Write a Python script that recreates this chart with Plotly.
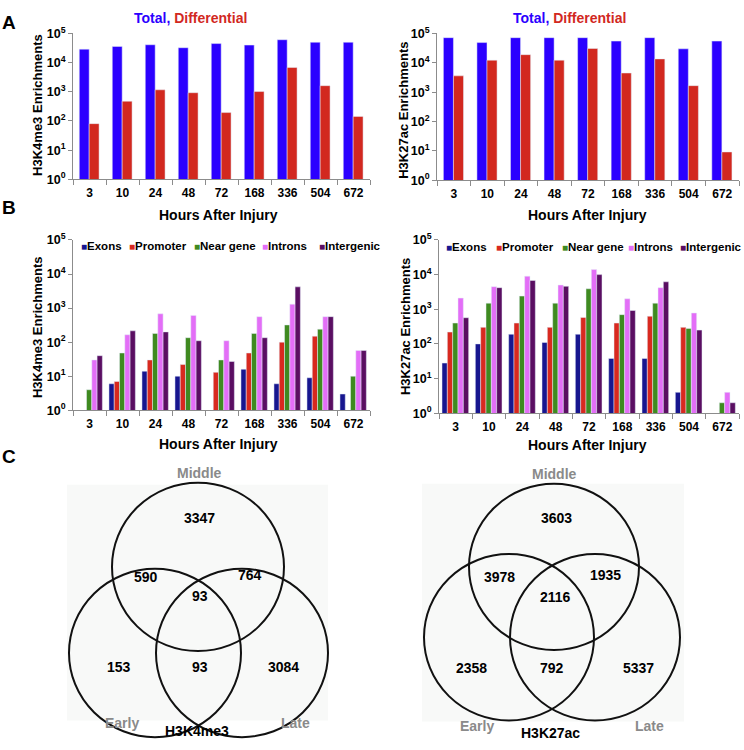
import plotly.graph_objects as go

W, H = 744, 750

# ---------------- data ----------------
hours = ["3", "10", "24", "48", "72", "168", "336", "504", "672"]

# Panel A: total vs differential enrichments
k4_total = [29000, 36000, 41000, 32500, 45000, 40000, 61000, 50000, 50000]
k4_diff = [81, 475, 1170, 930, 194, 1020, 6800, 1620, 143]
k27_total = [72000, 49000, 72000, 72000, 72000, 55000, 72000, 30000, 55000]
k27_diff = [3600, 12300, 19000, 12300, 30800, 4500, 13600, 1670, 9.2]

# Panel B: genomic distribution of differential enrichments
regions = ["Exons", "Promoter", "Near gene", "Introns", "Intergenic"]
k4_exons = [None, 6, 14, 10, None, 16, 6, 9, 3]
k4_promoter = [None, 7, 30, 22, 13, 48, 100, 150, None]
k4_near = [4, 48, 180, 135, 30, 180, 320, 240, 10]
k4_introns = [30, 165, 680, 610, 110, 560, 1300, 560, 57]
k4_intergenic = [40, 215, 200, 110, 27, 135, 4200, 560, 57]

k27_exons = [28, 100, 190, 110, 190, 38, 38, 4, None]
k27_promoter = [220, 300, 400, 300, 580, 400, 630, 300, None]
k27_near = [400, 1500, 2400, 1500, 3900, 700, 1500, 280, 2]
k27_introns = [2100, 4500, 9000, 5000, 14000, 2000, 4200, 780, 4]
k27_intergenic = [570, 4200, 6800, 4600, 10000, 920, 6200, 250, 2]

# Panel C: Venn counts (early-only, middle-only, late-only, E&M, M&L, E&L, all)
venn_sets = ["Early", "Middle", "Late"]
k4_venn = [153, 3347, 3084, 590, 764, 93, 93]
k27_venn = [2358, 3603, 5337, 3978, 1935, 792, 2116]

tick_vals = [1, 10, 100, 1000, 10000, 100000]
tick_text = ["10<sup>%d</sup>" % i for i in range(6)]

# ---------------- style ----------------
FONT = "Liberation Sans, Arial, sans-serif"
BLUE, RED = "#2b00ff", "#d2281f"
REGION_COLORS = ["#17168f", "#d8291f", "#3f8a20", "#e36ef7", "#5a0e62"]
AXIS_GRAY = "#8c8c8c"


def px(x):
    return x / W


def py(y):
    return 1 - y / H


fig = go.Figure()

# Panel A bars
for (tot, dif, xa, ya) in [(k4_total, k4_diff, "x", "y"), (k27_total, k27_diff, "x2", "y2")]:
    fig.add_trace(go.Bar(x=hours, y=tot, marker_color=BLUE, width=0.3, offset=-0.31,
                         xaxis=xa, yaxis=ya, showlegend=False, name="Total"))
    fig.add_trace(go.Bar(x=hours, y=dif, marker_color=RED, width=0.3, offset=-0.01,
                         xaxis=xa, yaxis=ya, showlegend=False, name="Differential"))

# Panel B bars
for series, xa, ya in [([k4_exons, k4_promoter, k4_near, k4_introns, k4_intergenic], "x3", "y3"),
                       ([k27_exons, k27_promoter, k27_near, k27_introns, k27_intergenic], "x4", "y4")]:
    for i, (name, vals) in enumerate(zip(regions, series)):
        fig.add_trace(go.Bar(x=hours, y=vals, marker_color=REGION_COLORS[i], width=0.16,
                             offset=-0.41 + i * 0.16, xaxis=xa, yaxis=ya,
                             showlegend=False, name=name))

fig.update_layout(barmode="overlay")

# axis domains in pixels
doms = {
    1: ((73, 370), (25, 174)),
    2: ((437, 739), (25, 175)),
    3: ((73, 370), (236, 410)),
    4: ((439, 739), (236, 413)),
}
for i, ((x0, x1), (y0, y1)) in doms.items():
    sfx = "" if i == 1 else str(i)
    fig.update_layout({
        "xaxis" + sfx: dict(domain=[px(x0), px(x1)], anchor="y" + sfx, type="category",
                            showline=True, linecolor=AXIS_GRAY, linewidth=1,
                            ticks="outside", tickson="boundaries", ticklen=5, tickcolor=AXIS_GRAY,
                            tickfont=dict(family=FONT, size=12, color="black", weight="bold"),
                            ticklabelstandoff=2, showgrid=False, zeroline=False, fixedrange=True),
        "yaxis" + sfx: dict(domain=[py(y1), py(y0)], anchor="x" + sfx, type="log", range=[0, 5],
                            tickvals=tick_vals, ticktext=tick_text,
                            showline=True, linecolor=AXIS_GRAY, linewidth=1,
                            ticks="outside", ticklen=4, tickcolor=AXIS_GRAY,
                            tickfont=dict(family=FONT, size=12.5, color="black", weight="bold"),
                            showgrid=False, zeroline=False, fixedrange=True),
    })

ann = []


def text(x, y, s, size=14, color="black", angle=0, xanchor="center"):
    ann.append(dict(x=px(x), y=py(y), xref="paper", yref="paper", text=s, showarrow=False,
                    textangle=angle, xanchor=xanchor, yanchor="middle",
                    font=dict(family=FONT, size=size, color=color, weight="bold")))


# panel letters
text(9, 14, "A", 19)
text(9, 203, "B", 19)
text(9, 457, "C", 19)

# panel A titles
title_html = "<span style='color:%s'>Total, </span><span style='color:%s'>Differential</span>" % (BLUE, RED)
text(190, 9, title_html, 14)
text(569, 9, title_html, 14)

# axis titles
text(218, 211, "Hours After Injury", 14)
text(587, 211, "Hours After Injury", 14)
text(218, 444, "Hours After Injury", 14)
text(587, 446, "Hours After Injury", 14)
text(38, 98, "H3K4me3 Enrichments", 13, angle=-90)
text(404, 104, "H3K27ac Enrichments", 13, angle=-90)
text(37, 325, "H3K4me3 Enrichments", 13, angle=-90)
text(405, 324, "H3K27ac Enrichments", 13, angle=-90)

# panel B legends (one entry per region)
legend_x = [(79, 127, 192, 260, 317, 242), (444, 494, 560, 626, 678, 243)]
for xs in legend_x:
    for c, n, x in zip(REGION_COLORS, regions, xs[:5]):
        text(x, xs[5], "<span style='color:%s;font-size:10px'>■</span>%s" % (c, n), 11.5,
             xanchor="left")

# ---------------- Venn diagrams ----------------
shapes = []
venns = [
    dict(counts=k4_venn, name="H3K4me3", rect=(67, 486, 328, 727),
         centres=[(155, 658), (198, 570), (242, 658)], r=86,
         pos=[(119, 672), (199, 520), (283, 672), (146, 580), (250, 578), (200, 672), (200, 600)],
         set_pos=[(122, 730), (199, 474), (295, 730)], name_pos=(197, 738)),
    dict(counts=k27_venn, name="H3K27ac", rect=(422, 485, 684, 728),
         centres=[(509, 642), (554, 570), (595, 642)], r=85,
         pos=[(471, 673), (556, 520), (638, 673), (500, 580), (605, 578), (552, 673), (555, 601)],
         set_pos=[(477, 733), (554, 475), (649, 733)], name_pos=(550, 740)),
]
for v in venns:
    x0, y0, x1, y1 = v["rect"]
    shapes.append(dict(type="rect", xref="paper", yref="paper", x0=px(x0), x1=px(x1),
                       y0=py(y1), y1=py(y0), fillcolor="#f8f9f8", line=dict(width=0), layer="below"))
    for (cx, cy) in v["centres"]:
        r = v["r"]
        shapes.append(dict(type="circle", xref="paper", yref="paper",
                           x0=px(cx - r), x1=px(cx + r), y0=py(cy + r), y1=py(cy - r),
                           line=dict(color="#111111", width=2)))
    for (x, y), c in zip(v["pos"], v["counts"]):
        text(x, y, str(c), 14)
    for (x, y), s in zip(v["set_pos"], venn_sets):
        text(x, y, s, 14, color="#8a8a8a")
    text(v["name_pos"][0], v["name_pos"][1], v["name"], 14)

fig.update_layout(
    width=W, height=H, autosize=False,
    margin=dict(l=0, r=0, t=0, b=0, pad=0),
    paper_bgcolor="white", plot_bgcolor="white",
    annotations=ann, shapes=shapes, showlegend=False,
    font=dict(family=FONT),
)

fig.write_html("out.html", config={"displayModeBar": False},
               post_script="document.body.style.margin='0';")
